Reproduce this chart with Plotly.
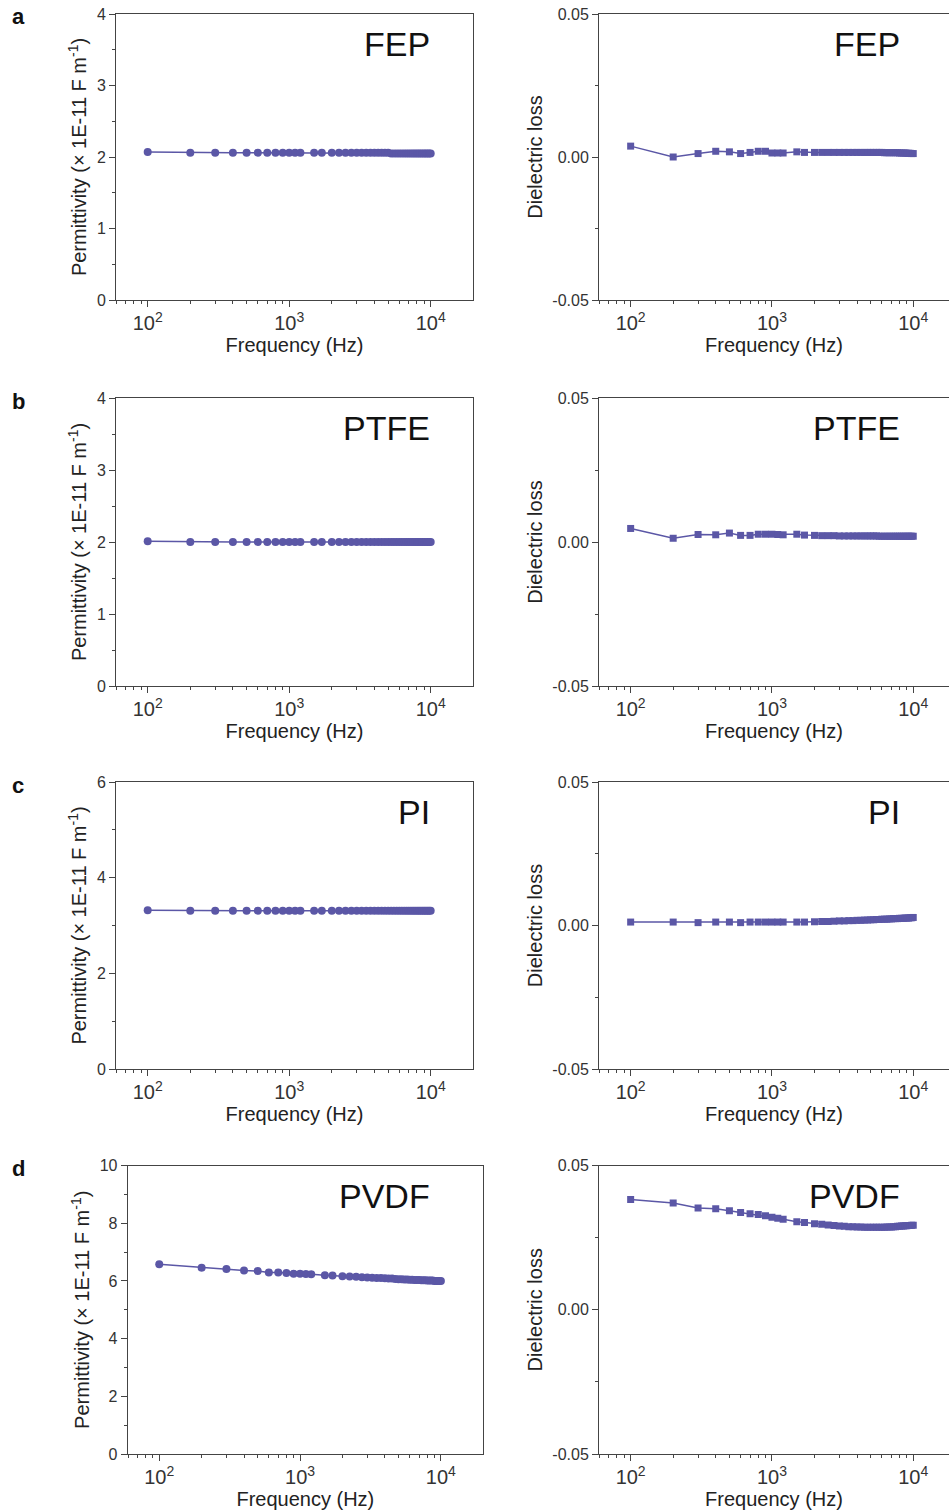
import plotly.graph_objects as go
from plotly.subplots import make_subplots

# ---------------- data ----------------
freq = [100, 200, 300, 400, 500, 600, 700, 800, 900, 1000, 1100, 1200, 1500, 1700,
        2000, 2250, 2500, 2750, 3000, 3250, 3500, 3750, 4000, 4250, 4500,
        4750, 5000, 5250, 5500, 5750, 6000, 6250, 6500, 6750, 7000, 7250,
        7500, 7750, 8000, 8250, 8500, 8750, 9000, 9250, 9500, 9750, 10000]

fep_perm = [2.07, 2.06, 2.06, 2.06, 2.06, 2.06, 2.06, 2.06, 2.06, 2.06, 2.06, 2.06, 2.06, 2.06,
            2.06, 2.06, 2.06, 2.06, 2.06, 2.06, 2.06, 2.06, 2.06, 2.06, 2.06,
            2.06, 2.06, 2.05, 2.05, 2.05, 2.05, 2.05, 2.05, 2.05, 2.05, 2.05,
            2.05, 2.05, 2.05, 2.05, 2.05, 2.05, 2.05, 2.05, 2.05, 2.05, 2.05]
fep_loss = [0.0038, 0.0000, 0.0012, 0.0020, 0.0018, 0.0012, 0.0016, 0.0020, 0.0020, 0.0014, 0.0014, 0.0014, 0.0018, 0.0016,
            0.0016, 0.0016, 0.0016, 0.0016, 0.0016, 0.0016, 0.0016, 0.0016, 0.0016, 0.0016, 0.0016,
            0.0016, 0.0016, 0.0016, 0.0016, 0.0016, 0.0016, 0.0015, 0.0015, 0.0015, 0.0015, 0.0015,
            0.0015, 0.0015, 0.0014, 0.0014, 0.0014, 0.0014, 0.0013, 0.0013, 0.0013, 0.0012, 0.0012]

ptfe_perm = [2.01, 2.00, 2.00, 2.00, 2.00, 2.00, 2.00, 2.00, 2.00, 2.00, 2.00, 2.00, 2.00, 2.00,
             2.00, 2.00, 2.00, 2.00, 2.00, 2.00, 2.00, 2.00, 2.00, 2.00, 2.00,
             2.00, 2.00, 2.00, 2.00, 2.00, 2.00, 2.00, 2.00, 2.00, 2.00, 2.00,
             2.00, 2.00, 2.00, 2.00, 2.00, 2.00, 2.00, 2.00, 2.00, 2.00, 2.00]
ptfe_loss = [0.0047, 0.0013, 0.0026, 0.0025, 0.0031, 0.0023, 0.0023, 0.0027, 0.0027, 0.0027, 0.0026, 0.0025, 0.0027, 0.0024,
             0.0023, 0.0022, 0.0022, 0.0022, 0.0021, 0.0021, 0.0021, 0.0021, 0.0021, 0.0021, 0.0021,
             0.0021, 0.0021, 0.0021, 0.0021, 0.0020, 0.0020, 0.0020, 0.0020, 0.0020, 0.0020, 0.0020,
             0.0020, 0.0020, 0.0020, 0.0020, 0.0020, 0.0020, 0.0020, 0.0020, 0.0020, 0.0020, 0.0020]

pi_perm = [3.32, 3.31, 3.31, 3.31, 3.31, 3.31, 3.31, 3.31, 3.31, 3.31, 3.31, 3.31, 3.31, 3.31,
           3.31, 3.31, 3.31, 3.31, 3.31, 3.31, 3.31, 3.31, 3.31, 3.31, 3.31,
           3.31, 3.31, 3.31, 3.31, 3.31, 3.31, 3.31, 3.31, 3.31, 3.31, 3.31,
           3.31, 3.31, 3.31, 3.31, 3.31, 3.31, 3.31, 3.31, 3.31, 3.31, 3.31]
pi_loss = [0.0012, 0.0012, 0.0010, 0.0012, 0.0012, 0.0010, 0.0012, 0.0012, 0.0012, 0.0012, 0.0012, 0.0012, 0.0012, 0.0012,
           0.0013, 0.0014, 0.0014, 0.0015, 0.0016, 0.0016, 0.0017, 0.0017, 0.0018, 0.0018, 0.0019,
           0.0019, 0.0020, 0.0020, 0.0021, 0.0021, 0.0022, 0.0022, 0.0022, 0.0023, 0.0023, 0.0024,
           0.0024, 0.0024, 0.0025, 0.0025, 0.0025, 0.0026, 0.0026, 0.0026, 0.0027, 0.0027, 0.0028]

pvdf_perm = [6.58, 6.46, 6.41, 6.36, 6.34, 6.29, 6.29, 6.27, 6.25, 6.25, 6.24, 6.23, 6.20, 6.19,
             6.16, 6.15, 6.14, 6.13, 6.12, 6.11, 6.10, 6.10, 6.09, 6.08, 6.08,
             6.07, 6.06, 6.06, 6.05, 6.05, 6.04, 6.04, 6.03, 6.03, 6.03, 6.02,
             6.02, 6.02, 6.01, 6.01, 6.01, 6.01, 6.00, 6.00, 6.00, 6.00, 6.00]
pvdf_loss = [0.0382, 0.0370, 0.0353, 0.0350, 0.0343, 0.0337, 0.0333, 0.0330, 0.0326, 0.0321, 0.0317, 0.0314, 0.0305, 0.0302,
             0.0298, 0.0296, 0.0294, 0.0292, 0.0290, 0.0289, 0.0288, 0.0288, 0.0287, 0.0287, 0.0286,
             0.0286, 0.0286, 0.0286, 0.0286, 0.0286, 0.0286, 0.0286, 0.0287, 0.0287, 0.0287, 0.0288,
             0.0288, 0.0289, 0.0289, 0.0290, 0.0290, 0.0291, 0.0291, 0.0292, 0.0292, 0.0293, 0.0293]

materials = ["FEP", "PTFE", "PI", "PVDF"]
panel_letters = ["a", "b", "c", "d"]
perm_series = [fep_perm, ptfe_perm, pi_perm, pvdf_perm]
loss_series = [fep_loss, ptfe_loss, pi_loss, pvdf_loss]
perm_ranges = [[0, 4], [0, 4], [0, 6], [0, 10]]
perm_dticks = [1, 1, 2, 2]
loss_tickvals = [-0.05, 0.0, 0.05]
loss_ticktext = ["-0.05", "0.00", "0.05"]

# ---------------- layout (pixels) ----------------
W, H = 949, 1510
COLOR = "#5b57a6"
FONT = "Liberation Sans, Arial, sans-serif"
row_tops = [14, 398, 782, 1165.5]
row_bots = [300, 686, 1069, 1454]
left_x = [(116, 473), (116, 473), (116, 473), (127.7, 483)]
right_x = (599, 949)

fig = make_subplots(rows=4, cols=2)

axis_common = dict(
    showline=True, linecolor="#444", linewidth=1, mirror=True,
    ticks="outside", ticklen=6, tickwidth=1, tickcolor="#444",
    showgrid=False, zeroline=False,
    tickfont=dict(family=FONT, size=16, color="#333"),
)
TITLE_FONT = dict(family=FONT, size=20, color="#222")

for i in range(4):
    r = i + 1
    fig.add_trace(go.Scatter(x=freq, y=perm_series[i], mode="lines+markers",
                             line=dict(color=COLOR, width=1.5),
                             marker=dict(symbol="circle", size=8, color=COLOR),
                             showlegend=False), row=r, col=1)
    fig.add_trace(go.Scatter(x=freq, y=loss_series[i], mode="lines+markers",
                             line=dict(color=COLOR, width=1.5),
                             marker=dict(symbol="square", size=7, color=COLOR),
                             showlegend=False), row=r, col=2)

    ydom = [1 - row_bots[i] / H, 1 - row_tops[i] / H]
    lx = left_x[i]
    xa_l = 2 * i + 1
    xa_r = 2 * i + 2
    xl_name = "xaxis" if xa_l == 1 else f"xaxis{xa_l}"
    yl_name = "yaxis" if xa_l == 1 else f"yaxis{xa_l}"
    xr_name = f"xaxis{xa_r}"
    yr_name = f"yaxis{xa_r}"

    xcommon = dict(axis_common)
    xtitle = dict(text="Frequency (Hz)", font=TITLE_FONT, standoff=1)
    fig.layout[xl_name].update(type="log", domain=[lx[0] / W, lx[1] / W],
                               range=[1.776, 4.299], dtick=1, exponentformat="power",
                               minor=dict(ticks="outside", ticklen=3, tickcolor="#444", dtick="D1"),
                               title=xtitle, **xcommon)
    fig.layout[xr_name].update(type="log", domain=[right_x[0] / W, right_x[1] / W],
                               range=[1.776, 4.253], dtick=1, exponentformat="power",
                               minor=dict(ticks="outside", ticklen=3, tickcolor="#444", dtick="D1"),
                               title=xtitle, **xcommon)

    ycommon = dict(axis_common)
    fig.layout[yl_name].update(domain=ydom, range=perm_ranges[i], dtick=perm_dticks[i],
                               minor=dict(ticks="outside", ticklen=3, tickcolor="#444",
                                          dtick=perm_dticks[i] / 2),
                               title=dict(text="Permittivity (× 1E-11 F m<sup>-1</sup>)",
                                          font=TITLE_FONT, standoff=4),
                               **ycommon)
    ycommon_r = dict(ycommon)
    ycommon_r["mirror"] = False
    fig.layout[yr_name].update(domain=ydom, range=[-0.05, 0.05],
                               tickmode="array", tickvals=loss_tickvals, ticktext=loss_ticktext,
                               minor=dict(ticks="outside", ticklen=3, tickcolor="#444",
                                          tickvals=[-0.025, 0.025]),
                               title=dict(text="Dielectric loss", font=TITLE_FONT, standoff=4),
                               **ycommon_r)

    # material labels
    ymid = 1 - (row_tops[i] + 30) / H
    fig.add_annotation(x=432 / W, y=ymid, xref="paper", yref="paper",
                       xanchor="right", yanchor="middle", showarrow=False,
                       text=materials[i], font=dict(family=FONT, size=34, color="#111"))
    fig.add_annotation(x=902 / W, y=ymid, xref="paper", yref="paper",
                       xanchor="right", yanchor="middle", showarrow=False,
                       text=materials[i], font=dict(family=FONT, size=34, color="#111"))
    # panel letters
    fig.add_annotation(x=10 / W, y=1 - (row_tops[i] + 3) / H, xref="paper", yref="paper",
                       xanchor="left", yanchor="middle", showarrow=False,
                       text=f"<b>{panel_letters[i]}</b>",
                       font=dict(family=FONT, size=22, color="#111"))

fig.update_layout(width=W, height=H, plot_bgcolor="white", paper_bgcolor="white",
                  margin=dict(l=0, r=0, t=0, b=0, autoexpand=False),
                  font=dict(family=FONT))

fig.write_html("out.html")
